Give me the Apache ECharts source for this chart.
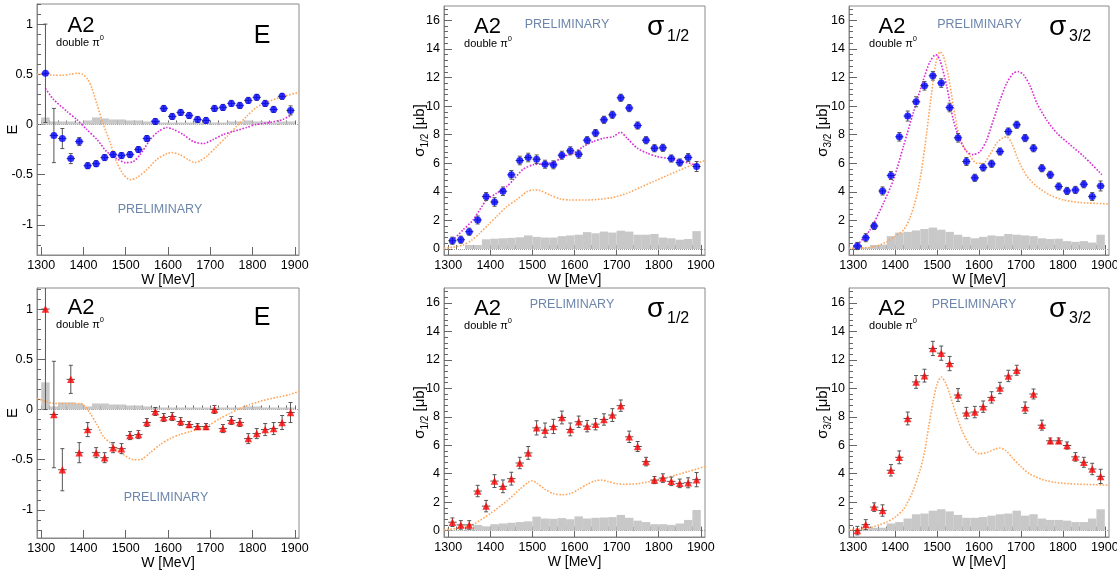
<!DOCTYPE html>
<html><head><meta charset="utf-8">
<script src="https://cdn.jsdelivr.net/npm/echarts@6/dist/echarts.min.js"></script>
<style>html,body{margin:0;padding:0;background:#fff}#c{width:1117px;height:573px}</style>
</head><body><div id="c"></div><script>
// ---------- data ----------
const W = [1310,1330,1350,1370,1390,1410,1430,1450,1470,1490,1510,1530,1550,1570,1590,1610,1630,1650,1670,1690,1710,1730,1750,1770,1790,1810,1830,1850,1870,1890];
const BIN_HALF = 10;

// Top-left: E (blue circles)
const eBlue    = [0.51,-0.11,-0.14,-0.34,-0.17,-0.41,-0.39,-0.33,-0.30,-0.31,-0.30,-0.25,-0.14,0.03,0.16,0.08,0.12,0.09,0.05,0.04,0.16,0.17,0.21,0.19,0.24,0.27,0.21,0.15,0.28,0.14];
const eBlueErr = [0.49,0.27,0.10,0.05,0.04,0.03,0.03,0.03,0.03,0.03,0.03,0.03,0.03,0.03,0.03,0.03,0.03,0.03,0.03,0.03,0.03,0.03,0.03,0.03,0.03,0.03,0.03,0.03,0.03,0.045];
const eBlueSys = [0.07,0.03,0.03,0.03,0.02,0.04,0.07,0.06,0.05,0.05,0.04,0.04,0.03,0.03,0.02,0.02,0.02,0.02,0.02,0.02,0.02,0.02,0.03,0.03,0.04,0.03,0.03,0.02,0.03,0.03];
const eOrW = [1290,1310,1330,1350,1370,1385,1398,1410,1420,1432,1447,1463,1479,1495,1510,1526,1550,1573,1597,1609,1628,1648,1664,1676,1691,1715,1739,1762,1786,1809,1833,1865,1910];
const eOrV = [0.50,0.50,0.49,0.49,0.50,0.51,0.50,0.45,0.36,0.20,0.00,-0.18,-0.38,-0.50,-0.55,-0.53,-0.45,-0.35,-0.29,-0.28,-0.30,-0.35,-0.38,-0.36,-0.32,-0.22,-0.12,-0.02,0.08,0.17,0.22,0.27,0.32];
const eMgW = [1310,1329,1361,1384,1408,1432,1455,1479,1499,1518,1534,1558,1577,1597,1613,1636,1660,1684,1707,1731,1754,1786,1809,1841,1872,1893];
const eMgV = [0.36,0.25,0.13,0.05,-0.05,-0.15,-0.27,-0.34,-0.38,-0.37,-0.30,-0.15,-0.07,-0.03,-0.05,-0.10,-0.17,-0.19,-0.15,-0.10,-0.07,-0.03,0.00,0.02,0.05,0.10];

// Top-middle: sigma 1/2 (blue)
const s12Blue    = [0.58,0.65,1.21,2.03,3.67,3.29,4.04,5.19,6.19,6.40,6.28,5.93,5.89,6.56,6.87,6.63,7.61,8.11,9.04,9.39,10.58,9.86,8.64,7.61,7.05,7.08,6.33,6.05,6.40,5.77];
const s12BlueErr = [0.25,0.25,0.25,0.28,0.28,0.3,0.3,0.3,0.3,0.3,0.3,0.28,0.28,0.28,0.28,0.28,0.25,0.25,0.25,0.25,0.25,0.25,0.25,0.25,0.25,0.25,0.25,0.25,0.28,0.35];
const s12BlueSys = [0,0,0.28,0.28,0.68,0.72,0.75,0.78,0.82,0.95,0.85,0.80,0.80,0.90,0.95,1.00,1.18,1.10,1.22,1.15,1.28,1.22,1.00,1.00,1.05,0.80,0.75,0.65,0.70,1.25];
const s12OrW = [1290,1310,1335,1355,1375,1395,1415,1439,1462,1486,1502,1518,1542,1566,1590,1629,1661,1693,1725,1757,1788,1820,1852,1884,1910];
const s12OrV = [0.05,0.12,0.28,0.6,1.1,1.7,2.27,2.97,3.43,4.0,4.13,4.09,3.78,3.5,3.43,3.43,3.48,3.62,3.9,4.32,4.72,5.14,5.54,5.93,6.19];
const s12MgW = [1310,1335,1359,1391,1415,1439,1455,1478,1502,1526,1550,1574,1598,1621,1645,1669,1693,1709,1725,1749,1773,1796,1820,1852,1892];
const s12MgV = [0.58,1.33,2.03,3.43,3.9,4.37,4.84,5.58,5.89,5.96,6.05,6.47,6.7,7.17,7.52,7.75,7.87,8.17,7.75,7.05,6.7,6.47,6.35,6.17,5.84];

// Top-right: sigma 3/2 (blue)
const s32Blue    = [0.21,0.79,1.61,4.06,5.14,7.85,9.30,10.30,11.42,12.12,11.61,9.90,7.78,6.12,4.98,5.70,5.96,6.82,8.22,8.69,7.76,7.05,5.65,5.19,4.37,4.06,4.13,4.53,3.67,4.41];
const s32BlueErr = [0.25,0.28,0.25,0.28,0.28,0.3,0.35,0.35,0.3,0.3,0.3,0.3,0.3,0.28,0.25,0.25,0.25,0.25,0.25,0.25,0.25,0.25,0.25,0.25,0.25,0.25,0.25,0.25,0.28,0.35];
const s32BlueSys = [0.02,0.1,0.28,0.3,0.9,1.15,1.2,1.3,1.4,1.5,1.35,1.2,1.0,0.85,0.75,0.85,0.95,0.9,1.05,1.0,0.95,0.9,0.75,0.7,0.72,0.55,0.5,0.55,0.45,1.0];
const s32OrW = [1290,1320,1350,1380,1400,1420,1435,1451,1463,1475,1487,1497,1507,1515,1527,1539,1551,1563,1579,1594,1610,1626,1642,1658,1666,1678,1694,1714,1738,1769,1801,1841,1910];
const s32OrV = [0.05,0.08,0.15,0.5,0.9,1.33,2.15,3.67,5.5,8.1,10.9,13.0,13.8,13.5,12.1,10.0,8.1,7.2,6.5,6.0,6.0,6.6,7.4,7.8,7.85,7.4,6.2,5.1,4.37,3.78,3.43,3.25,3.15];
const s32MgW = [1310,1340,1372,1396,1420,1443,1467,1483,1497,1507,1523,1539,1555,1571,1586,1602,1618,1634,1650,1666,1682,1694,1706,1722,1738,1762,1786,1817,1849,1893];
const s32MgV = [0.28,1.33,3.2,4.84,7.2,9.5,11.8,13.1,13.6,13.2,11.4,9.0,7.6,6.8,6.6,6.8,7.6,9.0,10.4,11.6,12.3,12.4,12.2,11.4,10.2,9.0,8.1,7.3,6.5,5.2];

// Bottom-left: E (red triangles)
const eRed    = [1.0,-0.05,-0.60,0.30,-0.43,-0.20,-0.43,-0.48,-0.38,-0.39,-0.26,-0.25,-0.13,-0.02,-0.08,-0.07,-0.12,-0.15,-0.17,-0.17,0.0,-0.19,-0.11,-0.13,-0.29,-0.24,-0.20,-0.19,-0.13,-0.03];
const eRedErr = [1.0,0.53,0.21,0.14,0.10,0.07,0.05,0.05,0.05,0.05,0.04,0.04,0.04,0.04,0.04,0.04,0.04,0.03,0.03,0.03,0.04,0.04,0.04,0.04,0.05,0.05,0.06,0.06,0.07,0.10];
const eRedSys = [0.27,0.03,0.07,0.07,0.06,0.03,0.06,0.06,0.05,0.05,0.04,0.04,0.03,0.02,0.02,0.02,0.02,0.02,0.02,0.02,0.02,0.02,0.02,0.02,0.03,0.03,0.02,0.02,0.02,0.02];
const eOr2W = [1290,1310,1330,1360,1390,1402,1416,1432,1447,1463,1479,1495,1518,1534,1558,1581,1605,1628,1652,1676,1699,1723,1746,1770,1794,1825,1857,1888,1910];
const eOr2V = [0.11,0.08,0.06,0.06,0.06,0.04,-0.04,-0.15,-0.27,-0.33,-0.40,-0.45,-0.50,-0.50,-0.43,-0.35,-0.29,-0.25,-0.22,-0.19,-0.15,-0.09,-0.04,0.01,0.05,0.09,0.12,0.15,0.18];

// Bottom-middle: sigma 1/2 (red)
const s12Red    = [0.59,0.40,0.40,2.78,1.72,3.48,3.11,3.65,4.75,5.46,7.22,7.06,7.32,7.95,7.11,7.65,7.34,7.48,7.81,8.12,8.78,6.59,5.91,4.85,3.55,3.69,3.46,3.32,3.36,3.58];
const s12RedErr = [0.3,0.3,0.3,0.4,0.4,0.45,0.45,0.45,0.4,0.45,0.5,0.5,0.5,0.45,0.45,0.4,0.4,0.4,0.4,0.45,0.4,0.4,0.35,0.3,0.25,0.3,0.3,0.3,0.35,0.5];
const s12RedSys = [0.05,0.05,0.1,0.4,0.3,0.45,0.5,0.55,0.6,0.65,0.98,0.85,0.83,0.88,0.8,1.0,0.85,0.9,0.92,0.95,1.1,0.9,0.7,0.6,0.45,0.45,0.4,0.5,0.75,1.45];
const s12Or2W = [1290,1330,1360,1400,1440,1470,1490,1500,1510,1530,1550,1570,1590,1610,1630,1650,1665,1680,1700,1720,1750,1780,1810,1840,1870,1910];
const s12Or2V = [0.05,0.2,0.45,1.2,2.1,2.9,3.4,3.5,3.35,2.9,2.6,2.52,2.6,2.9,3.25,3.5,3.55,3.45,3.3,3.25,3.3,3.45,3.65,3.9,4.15,4.5];

// Bottom-right: sigma 3/2 (red)
const s32Red    = [0.0,0.42,1.65,1.41,4.24,5.15,7.88,10.45,10.89,12.8,12.47,11.74,9.53,8.26,8.33,8.71,9.36,10.02,10.87,11.27,8.64,9.60,7.41,6.31,6.31,5.98,5.18,4.80,4.33,3.81];
const s32RedErr = [0.3,0.35,0.3,0.4,0.4,0.45,0.45,0.45,0.45,0.5,0.5,0.5,0.45,0.4,0.4,0.4,0.4,0.4,0.4,0.35,0.4,0.35,0.35,0.2,0.2,0.25,0.3,0.35,0.4,0.5];
const s32RedSys = [0.05,0.1,0.2,0.2,0.5,0.6,0.85,1.15,1.2,1.4,1.5,1.35,1.1,0.9,0.9,0.95,1.05,1.15,1.2,1.4,1.05,1.15,0.85,0.75,0.75,0.7,0.6,0.6,0.85,1.5];
const s32Or2W = [1290,1340,1380,1400,1420,1440,1460,1470,1480,1490,1500,1510,1520,1530,1545,1560,1580,1600,1620,1640,1650,1665,1680,1700,1720,1750,1780,1810,1850,1910];
const s32Or2V = [0.05,0.2,0.6,0.95,1.5,2.6,4.3,5.5,7.3,9.0,10.3,10.8,10.4,9.6,8.2,7.0,5.9,5.4,5.5,5.75,5.8,5.6,5.1,4.5,4.0,3.6,3.4,3.3,3.25,3.2];

// tick labels
const xTicks = [1300,1400,1500,1600,1700,1800,1900];
const eTicks = [-1,-0.5,0,0.5,1];
const sTicks = [0,2,4,6,8,10,12,14,16];

// ---------- styling / layout ----------
const FONT = 'Liberation Sans, Arial, Helvetica, sans-serif';
const ORANGE = '#ffa65c', MAGENTA = '#d92ad9', BLUE = '#0000ff', RED = '#ff0000';
const X_MIN = 1290, X_MAX = 1910;
const xMinor = []; for (let v = 1300; v <= 1900; v += 20) xMinor.push(v);
const eMinor = []; for (let k = -12; k <= 12; k++) eMinor.push(k / 10);
const sMinor = []; for (let k = 0; k <= 42; k++) sMinor.push(Math.round(k * 4) / 10);

const sigName = (sub) => '{s|σ}{sub|' + sub + '}{s| [μb]}';

const panels = [
  {rect:{left:37,top:4,width:262,height:251}, ymin:-1.3, ymax:1.2, major:eTicks, minor:eMinor, name:'E', gap:17,
   pts:eBlue, err:eBlueErr, sys:eBlueSys, color:BLUE, symbol:'circle', curves:[[eOrW,eOrV,ORANGE],[eMgW,eMgV,MAGENTA]]},
  {rect:{left:444,top:6,width:261,height:249}, ymin:-0.42, ymax:17, major:sTicks, minor:sMinor, name:sigName('1/2'), gap:14,
   pts:s12Blue, err:s12BlueErr, sys:s12BlueSys, color:BLUE, symbol:'circle', curves:[[s12OrW,s12OrV,ORANGE],[s12MgW,s12MgV,MAGENTA]]},
  {rect:{left:849,top:6,width:260,height:249}, ymin:-0.42, ymax:17, major:sTicks, minor:sMinor, name:sigName('3/2'), gap:16,
   pts:s32Blue, err:s32BlueErr, sys:s32BlueSys, color:BLUE, symbol:'circle', curves:[[s32OrW,s32OrV,ORANGE],[s32MgW,s32MgV,MAGENTA]]},
  {rect:{left:37,top:288,width:262,height:250}, ymin:-1.28, ymax:1.21, major:eTicks, minor:eMinor, name:'E', gap:17,
   pts:eRed, err:eRedErr, sys:eRedSys, color:RED, symbol:'triangle', curves:[[eOr2W,eOr2V,ORANGE]]},
  {rect:{left:444,top:288,width:261,height:249}, ymin:-0.45, ymax:17.05, major:sTicks, minor:sMinor, name:sigName('1/2'), gap:14,
   pts:s12Red, err:s12RedErr, sys:s12RedSys, color:RED, symbol:'triangle', curves:[[s12Or2W,s12Or2V,ORANGE]]},
  {rect:{left:849,top:288,width:260,height:249}, ymin:-0.45, ymax:17.05, major:sTicks, minor:sMinor, name:sigName('3/2'), gap:16,
   pts:s32Red, err:s32RedErr, sys:s32RedSys, color:RED, symbol:'triangle', curves:[[s32Or2W,s32Or2V,ORANGE]]}
];

const grid = [], xAxis = [], yAxis = [], series = [];
const AXC = '#8a8a8a';
panels.forEach((p, i) => {
  grid.push(Object.assign({show:true, borderColor:AXC, borderWidth:1, backgroundColor:'transparent',
    containLabel:false, outerBoundsMode:'none'}, p.rect));
  // main x
  xAxis.push({type:'value', gridIndex:i, min:X_MIN, max:X_MAX, position:'bottom',
    axisLine:{show:true, onZero:false, lineStyle:{color:AXC}},
    axisTick:{show:true, inside:true, length:8, customValues:xTicks, lineStyle:{color:'#666'}},
    axisLabel:{show:true, customValues:xTicks, formatter:(v) => String(v), color:'#000', fontSize:12.5, fontFamily:FONT, margin:4},
    splitLine:{show:false},
    name:'W [MeV]', nameLocation:'middle', nameGap:16,
    nameTextStyle:{fontSize:14, color:'#000', fontFamily:FONT}});
  // minor x
  xAxis.push({type:'value', gridIndex:i, min:X_MIN, max:X_MAX, position:'bottom',
    axisLine:{show:false}, axisLabel:{show:false}, splitLine:{show:false},
    axisTick:{show:true, inside:true, length:4, customValues:xMinor, lineStyle:{color:'#666'}}});
  // main y
  yAxis.push({type:'value', gridIndex:i, min:p.ymin, max:p.ymax, position:'left',
    axisLine:{show:true, onZero:false, lineStyle:{color:AXC}},
    axisTick:{show:true, inside:true, length:8, customValues:p.major, lineStyle:{color:'#666'}},
    axisLabel:{show:true, customValues:p.major, formatter:(v) => String(v), color:'#000', fontSize:12.5, fontFamily:FONT, margin:4},
    splitLine:{show:false},
    name:p.name, nameLocation:'middle', nameGap:p.gap, nameMoveOverlap:false,
    nameTextStyle:{fontSize:15, color:'#000', fontFamily:FONT,
      rich:{s:{fontSize:15, fontFamily:FONT, color:'#000', verticalAlign:'top', lineHeight:18},
            sub:{fontSize:10, fontFamily:FONT, color:'#000', verticalAlign:'bottom', lineHeight:10}}}});
  // minor y
  yAxis.push({type:'value', gridIndex:i, min:p.ymin, max:p.ymax, position:'left',
    axisLine:{show:false}, axisLabel:{show:false}, splitLine:{show:false},
    axisTick:{show:true, inside:true, length:4, customValues:p.minor, lineStyle:{color:'#666'}}});

  const xi = 2 * i, yi = 2 * i;
  // systematic-error histogram
  series.push({type:'custom', xAxisIndex:xi, yAxisIndex:yi, clip:true, z:1, silent:true,
    data: W.map((w, k) => [w, p.sys[k]]),
    renderItem: (params, api) => {
      const c = api.value(0), v = api.value(1);
      const a = api.coord([c - BIN_HALF, v]), b = api.coord([c + BIN_HALF, 0]);
      return {type:'rect', shape:{x:a[0], y:a[1], width:b[0]-a[0], height:b[1]-a[1]}, style:{fill:'#c8c8c8'}};
    }});
  // model curves
  p.curves.forEach(([xs, ys, col]) => {
    series.push({type:'line', xAxisIndex:xi, yAxisIndex:yi, clip:true, z:2, silent:true,
      symbol:'none', showSymbol:false, smooth:0.25,
      data: xs.map((x, k) => [x, ys[k]]),
      lineStyle:{color:col, width:1.6, type:'dotted'}});
  });
  // error bars
  series.push({type:'custom', xAxisIndex:xi, yAxisIndex:yi, clip:true, z:3, silent:true,
    data: W.map((w, k) => [w, p.pts[k], p.err[k]]),
    renderItem: (params, api) => {
      const x = api.value(0), y = api.value(1), e = api.value(2);
      const t = api.coord([x, y + e]), b = api.coord([x, y - e]);
      const l = api.coord([x - BIN_HALF, y]), r = api.coord([x + BIN_HALF, y]);
      const st = {stroke:'#555', lineWidth:1};
      return {type:'group', children:[
        {type:'line', shape:{x1:t[0], y1:t[1], x2:b[0], y2:b[1]}, style:st},
        {type:'line', shape:{x1:t[0]-2, y1:t[1], x2:t[0]+2, y2:t[1]}, style:st},
        {type:'line', shape:{x1:b[0]-2, y1:b[1], x2:b[0]+2, y2:b[1]}, style:st},
        {type:'line', shape:{x1:l[0], y1:l[1], x2:r[0], y2:r[1]}, style:st}
      ]};
    }});
  // data points + zero line
  series.push({type:'scatter', xAxisIndex:xi, yAxisIndex:yi, z:4, silent:true,
    symbol:p.symbol, symbolSize:p.symbol === 'circle' ? 7 : 7.5,
    itemStyle:{color:p.color},
    data: W.map((w, k) => [w, p.pts[k]]),
    markLine:{silent:true, symbol:'none', label:{show:false}, z:1,
      lineStyle:{color:'#999', type:'dotted', width:1}, data:[{yAxis:0}]}});
});

// ---------- annotations ----------
const PRE = '#6c86ab';
const txt = (text, x, y, size, extra) => ({type:'text', x:x, y:y, silent:true, z:10,
  style:Object.assign({text:text, fontSize:size, fontFamily:FONT, fill:'#000', align:'center', verticalAlign:'middle'}, extra || {})});
const dbl = (x, y) => ({type:'text', x:x, y:y, silent:true, z:10,
  style:{text:'{a|double π}{b|0}', align:'center', verticalAlign:'middle', fontFamily:FONT,
    rich:{a:{fontSize:11, fontFamily:FONT, fill:'#000', color:'#000', verticalAlign:'bottom', lineHeight:14},
          b:{fontSize:7.5, fontFamily:FONT, fill:'#000', color:'#000', verticalAlign:'top', lineHeight:8}}}});
const graphics = [];
[0, 282].forEach((dy) => {
  graphics.push(txt('A2', 81, 26 + dy, 22));
  graphics.push(dbl(80, 41 + dy));
  graphics.push(txt('E', 262, 36.5 + dy, 25));
  graphics.push(txt('A2', 487.5, 26.5 + dy, 22));
  graphics.push(dbl(488, 42 + dy));
  graphics.push(txt('A2', 892, 26.5 + dy, 22));
  graphics.push(dbl(893, 42 + dy));
  graphics.push(txt('σ', 647, 27.6 + dy, 28, {align:'left'}));
  graphics.push(txt('1/2', 667, 36.5 + dy, 16, {align:'left'}));
  graphics.push(txt('σ', 1049, 27.6 + dy, 28, {align:'left'}));
  graphics.push(txt('3/2', 1069, 36.5 + dy, 16, {align:'left'}));
});
graphics.push(txt('PRELIMINARY', 160, 210, 12.5, {fill:PRE}));
graphics.push(txt('PRELIMINARY', 567, 24.5, 12.5, {fill:PRE}));
graphics.push(txt('PRELIMINARY', 979.5, 24.5, 12.5, {fill:PRE}));
graphics.push(txt('PRELIMINARY', 166, 498, 12.5, {fill:PRE}));
graphics.push(txt('PRELIMINARY', 572, 305, 12.5, {fill:PRE}));
graphics.push(txt('PRELIMINARY', 974, 305, 12.5, {fill:PRE}));

const chart = echarts.init(document.getElementById('c'), null, {renderer:'canvas'});
chart.setOption({animation:false, backgroundColor:'#fff', grid:grid, xAxis:xAxis, yAxis:yAxis, series:series, graphic:graphics});
</script></body></html>
